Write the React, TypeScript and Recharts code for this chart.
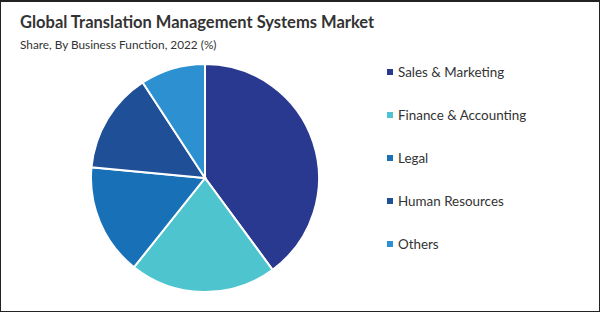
import { PieChart, Pie, Cell } from 'recharts'

const categories = ['Sales & Marketing', 'Finance & Accounting', 'Legal', 'Human Resources', 'Others']
const shares = [39.9, 20.8, 15.8, 14.3, 9.2]
const colors = ['#2a3990', '#4ec4cf', '#1870b7', '#1e4f97', '#2c90d1']

const data = categories.map((name, i) => ({ name, value: shares[i] }))

const FONT = 'Lato, "Open Sans", sans-serif'

export default function App() {
  return (
    <div
      style={{
        position: 'absolute',
        top: 0,
        left: 0,
        width: 600,
        height: 312,
        boxSizing: 'border-box',
        border: '1px solid #222',
        borderTopWidth: 2,
        background: '#fff',
        overflow: 'hidden',
      }}
    >
      <div style={{ position: 'absolute', left: 19, top: 10, fontFamily: FONT, fontWeight: 700, fontSize: 16.5, color: '#333' }}>
        Global Translation Management Systems Market
      </div>
      <div style={{ position: 'absolute', left: 19, top: 35, fontFamily: FONT, fontSize: 11.8, color: '#333' }}>
        Share, By Business Function, 2022 (%)
      </div>
      <div style={{ position: 'absolute', left: -1, top: -2 }}>
        <PieChart width={600} height={312} margin={{ top: 0, right: 0, bottom: 0, left: 0 }}>
          <Pie
            data={data}
            dataKey="value"
            nameKey="name"
            cx={205}
            cy={178}
            outerRadius={114}
            startAngle={90}
            endAngle={-270}
            stroke="#fff"
            strokeWidth={2}
            isAnimationActive={false}
          >
            {data.map((d, i) => (
              <Cell key={d.name} fill={colors[i]} />
            ))}
          </Pie>
        </PieChart>
      </div>
      {/* Legend */}
      <div style={{ position: 'absolute', left: 386, top: 48, fontFamily: FONT }}>
        {categories.map((c, i) => (
          <div
            key={c}
            style={{ display: 'flex', alignItems: 'center', height: 43, fontSize: 13.4, color: '#333' }}
          >
            <span style={{ width: 6, height: 6, background: colors[i], marginRight: 5, display: 'inline-block' }} />
            {c}
          </div>
        ))}
      </div>
    </div>
  )
}
